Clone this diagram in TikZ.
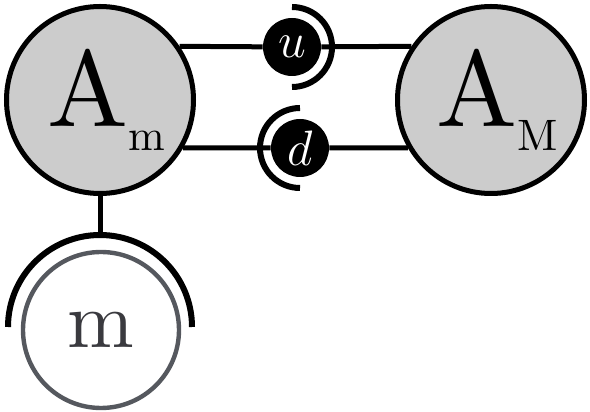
\documentclass[tikz,border=0pt]{standalone}
\usepackage{fontspec}
\newfontfamily\tenrm{lmroman10-regular}[Extension=.otf]
\definecolor{ringgray}{HTML}{55585E}
\definecolor{textgray}{HTML}{3A3A3F}
\newcommand{\bigA}[1]{{\fontsize{54}{54}\selectfont A}\raisebox{-12pt}{\fontsize{22}{22}\selectfont #1}}
\begin{document}
\begin{tikzpicture}[x=0.5pt,y=0.5pt,
    bignode/.style={circle,draw,line width=2.5pt,fill=black!20,minimum size=93.5pt,inner sep=0pt,font=\tenrm},
    dot/.style={circle,fill=black,minimum size=29pt,inner sep=0pt,text=white,font=\fontsize{28}{28}\selectfont},
    wire/.style={line width=2.5pt},
    cup/.style={line width=3pt}]
        \useasboundingbox (0,0) rectangle (590,412);
        \node[bignode] (Am) at (100,312) {\hspace{6pt}\bigA{m}};
        \node[bignode] (AM) at (491,312) {\hspace{6pt}\bigA{M}};
        \node[dot] (u) at (292,365) {$u$};
        \node[dot] (d) at (300,264) {$d$};
        \node[circle,draw=ringgray,line width=2.2pt,minimum size=78pt,inner sep=0pt,text=textgray,font=\tenrm\fontsize{40}{40}\selectfont] (m) at (101,82) {m};
        \coordinate (mtop) at (100,177);
        \draw[wire] (Am.34) -- (u) -- (AM.146);
        \draw[wire] (Am.-30) -- (d) -- (AM.-150);
        \draw[wire] (Am.south) -- (mtop);
        \draw[cup] (u.center) ++(-90:20pt) arc[start angle=-90,end angle=90,radius=20pt];
        \draw[cup] (d.center) ++(90:20pt) arc[start angle=90,end angle=270,radius=20pt];
        \draw[cup] (mtop) ++(-46pt,-46pt) arc[start angle=180,end angle=0,radius=46pt];
    \end{tikzpicture}
\end{document}
